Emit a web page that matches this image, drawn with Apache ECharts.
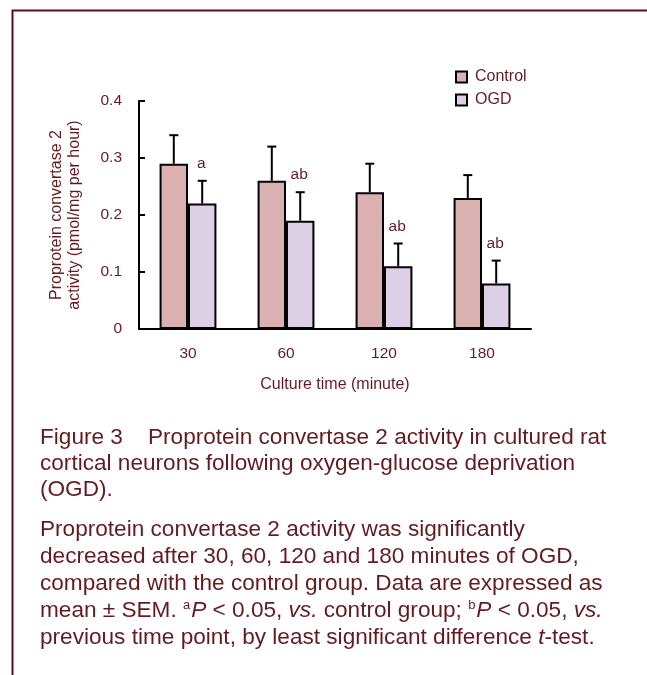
<!DOCTYPE html>
<html>
<head>
<meta charset="utf-8">
<script src="https://cdn.jsdelivr.net/npm/echarts@6/dist/echarts.min.js"></script>
<style>
html,body{margin:0;padding:0;background:#fff;}
#c{width:647px;height:675px;}
</style>
</head>
<body>
<div id="c"></div>
<script>
// ---- data ----
const categories = ['30', '60', '120', '180'];
const controlMean = [0.29, 0.26, 0.24, 0.23];
const controlSem  = [0.05, 0.06, 0.05, 0.04];
const ogdMean     = [0.22, 0.19, 0.11, 0.08];
const ogdSem      = [0.04, 0.05, 0.04, 0.04];
const sigLabels   = ['a', 'ab', 'ab', 'ab'];
const yTicks      = [0, 0.1, 0.2, 0.3, 0.4];

const TEXT = '#651a23';
const FONT = '"Liberation Sans", Arial, sans-serif';
const BAR_FRAC = 0.29;

const chart = echarts.init(document.getElementById('c'), null, {renderer: 'canvas'});

function errItem(sign, withLabel) {
  return function (params, api) {
    const ci = api.value(0), v = api.value(1), e = api.value(2);
    const bw = api.size([1, 0])[0];
    const cx = api.coord([ci, 0])[0] + sign * bw * BAR_FRAC / 2;
    const yTop = api.coord([ci, v])[1];
    const yErr = api.coord([ci, v + e])[1];
    const st = {stroke: '#000', lineWidth: 2};
    const children = [
      {type: 'line', shape: {x1: cx, y1: yTop, x2: cx, y2: yErr}, style: st},
      {type: 'line', shape: {x1: cx - 4.5, y1: yErr, x2: cx + 4.5, y2: yErr}, style: st}
    ];
    if (withLabel) {
      children.push({
        type: 'text',
        style: {
          x: cx - 1, y: yErr - 17, text: sigLabels[params.dataIndex],
          fill: TEXT, font: '15.5px ' + FONT, align: 'center', verticalAlign: 'middle'
        }
      });
    }
    return {type: 'group', children: children};
  };
}

const p1 = 'Figure 3\u00a0\u00a0\u00a0\u00a0Proprotein convertase 2 activity in cultured rat\n' +
           'cortical neurons following oxygen-glucose deprivation\n' +
           '(OGD).';
const p2 = 'Proprotein convertase 2 activity was significantly\n' +
           'decreased after 30, 60, 120 and 180 minutes of OGD,\n' +
           'compared with the control group. Data are expressed as\n' +
           'mean \u00b1 SEM. {sup|a}{i|P} < 0.05, {i|vs.} control group; {sup|b}{i|P} < 0.05, {i|vs.}\n' +
           'previous time point, by least significant difference {i|t}-test.';

const option = {
  backgroundColor: '#fff',
  animation: false,
  textStyle: {fontFamily: FONT},
  grid: {left: 139, right: 116, top: 101, bottom: 346, containLabel: false},
  legend: {
    data: ['Control', 'OGD'],
    orient: 'vertical',
    left: 455, top: 69,
    padding: 0,
    itemWidth: 11, itemHeight: 11,
    itemGap: 7,
    icon: 'rect',
    textStyle: {color: TEXT, fontSize: 16, lineHeight: 16, fontFamily: FONT, padding: [0, 0, 0, 3]}
  },
  xAxis: {
    type: 'category',
    data: categories,
    name: 'Culture time (minute)',
    nameLocation: 'middle',
    nameGap: 48,
    nameTextStyle: {color: TEXT, fontSize: 16, fontFamily: FONT},
    axisLine: {lineStyle: {color: '#000', width: 2}},
    axisTick: {inside: true, length: 7, lineStyle: {color: '#000', width: 2}},
    axisLabel: {color: TEXT, fontSize: 15.5, margin: 17, fontFamily: FONT}
  },
  yAxis: {
    type: 'value',
    min: yTicks[0], max: yTicks[yTicks.length - 1], interval: 0.1,
    name: 'Proprotein convertase 2\nactivity (pmol/mg per hour)',
    nameLocation: 'middle',
    nameRotate: 90,
    nameGap: 55,
    nameTextStyle: {color: TEXT, fontSize: 16, lineHeight: 18, fontFamily: FONT},
    axisLine: {show: true, lineStyle: {color: '#000', width: 2}},
    axisTick: {show: true, inside: true, length: 6, lineStyle: {color: '#000', width: 2}},
    axisLabel: {color: TEXT, fontSize: 15.5, margin: 17, fontFamily: FONT,
      formatter: function (v) { return String(Math.round(v * 10) / 10); }},
    splitLine: {show: false}
  },
  series: [
    {
      name: 'Control', type: 'bar', data: controlMean,
      barWidth: (BAR_FRAC * 100) + '%', barGap: '0%',
      itemStyle: {color: '#dbb0b0', borderColor: '#000', borderWidth: 2}
    },
    {
      name: 'OGD', type: 'bar', data: ogdMean,
      barWidth: (BAR_FRAC * 100) + '%', barGap: '0%',
      itemStyle: {color: '#dccfe6', borderColor: '#000', borderWidth: 2}
    },
    {
      name: 'ctrlErr', type: 'custom', renderItem: errItem(-1, false),
      data: controlMean.map((v, i) => [i, v, controlSem[i]]),
      encode: {x: 0, y: 1}, z: 5
    },
    {
      name: 'ogdErr', type: 'custom', renderItem: errItem(1, true),
      data: ogdMean.map((v, i) => [i, v, ogdSem[i]]),
      encode: {x: 0, y: 1}, z: 5
    }
  ],
  graphic: [
    {
      type: 'rect', left: 10, top: 8, silent: true,
      shape: {x: 0, y: 0, width: 636, height: 720},
      style: {fill: 'none', stroke: '#5c0f1a', lineWidth: 2}
    },
    {
      type: 'text', left: 40, top: 425,
      style: {text: p1, fill: TEXT, font: '22.6px ' + FONT, lineHeight: 26}
    },
    {
      type: 'text', left: 40, top: 516,
      style: {
        text: p2, fill: TEXT, font: '22.6px ' + FONT, lineHeight: 27,
        rich: {
          sup: {fontSize: 13, fill: TEXT, verticalAlign: 'top', lineHeight: 27, padding: [2, 1, 0, 0]},
          i: {fontSize: 22.6, fontStyle: 'italic', fill: TEXT, lineHeight: 27}
        }
      }
    }
  ]
};
chart.setOption(option);
</script>
</body>
</html>
